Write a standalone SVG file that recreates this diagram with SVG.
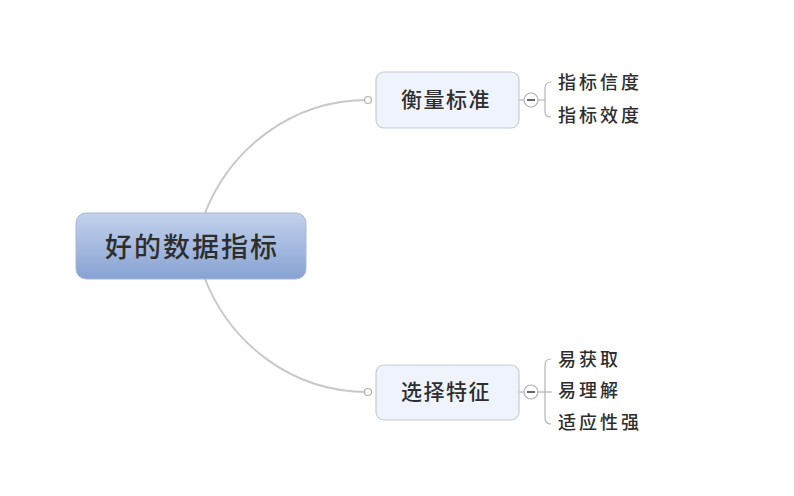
<svg xmlns="http://www.w3.org/2000/svg" width="794" height="496" viewBox="0 0 794 496">
<style>
.t{font-family:"Noto Sans CJK SC","Noto Sans",sans-serif;fill:#2e2e2e;font-weight:500;}
.sub{fill:#eef3fc;stroke:#c5ccd8;stroke-width:1.2;}
.conn{fill:none;stroke:#c8c8c8;stroke-width:2;}
.br{fill:none;stroke:#b5b5b5;stroke-width:1.2;}
.dot{fill:#fff;stroke:#b0b0b0;stroke-width:1.2;}
.leaf{font-size:18px;letter-spacing:3px;}
</style>
<defs>
<linearGradient id="g" x1="0" y1="0" x2="0" y2="1">
<stop offset="0" stop-color="#c3d2ec"/>
<stop offset="1" stop-color="#86a2d2"/>
</linearGradient>
</defs>
<rect width="794" height="496" fill="#fff"/>
<g id="connectors">
<path class="conn" d="M205,213 C230,150 290,100 368,100"/>
<path class="conn" d="M205,279 C230,342 290,392 368,392"/>
<circle class="dot" cx="368" cy="100" r="3.5"/>
<circle class="dot" cx="368" cy="392" r="3.5"/>
<line class="br" x1="519" y1="100" x2="524" y2="100"/>
<line class="br" x1="519" y1="392" x2="524" y2="392"/>
<line class="br" x1="538" y1="100" x2="545" y2="100"/>
<line class="br" x1="538" y1="392" x2="552" y2="392"/>
<path class="br" d="M551,82 Q545,82 545,88 L545,112 Q545,117 551,117"/>
<path class="br" d="M551,359 Q545,359 545,365 L545,418 Q545,424 551,424"/>
<circle class="dot" cx="531" cy="100" r="7"/>
<line x1="527" y1="100" x2="535" y2="100" stroke="#333" stroke-width="1.5"/>
<circle class="dot" cx="531" cy="392" r="7"/>
<line x1="527" y1="392" x2="535" y2="392" stroke="#333" stroke-width="1.5"/>
</g>
<g id="root">
<rect x="76" y="213" width="230" height="66" rx="10" fill="url(#g)" stroke="#a9b8d2" stroke-width="1"/>
<text class="t" x="192" y="257" font-size="27" letter-spacing="2" text-anchor="middle">好的数据指标</text>
</g>
<g id="n1">
<rect class="sub" x="376" y="72" width="143" height="56" rx="8"/>
<text class="t" x="446" y="107" font-size="21" letter-spacing="1.5" text-anchor="middle">衡量标准</text>
</g>
<g id="n2">
<rect class="sub" x="376" y="365" width="143" height="55" rx="8"/>
<text class="t" x="446" y="399" font-size="21" letter-spacing="1.5" text-anchor="middle">选择特征</text>
</g>
<g id="leaves">
<text class="t leaf" x="558" y="89">指标信度</text>
<text class="t leaf" x="558" y="122">指标效度</text>
<text class="t leaf" x="558" y="366">易获取</text>
<text class="t leaf" x="558" y="397">易理解</text>
<text class="t leaf" x="558" y="429">适应性强</text>
</g>
</svg>
